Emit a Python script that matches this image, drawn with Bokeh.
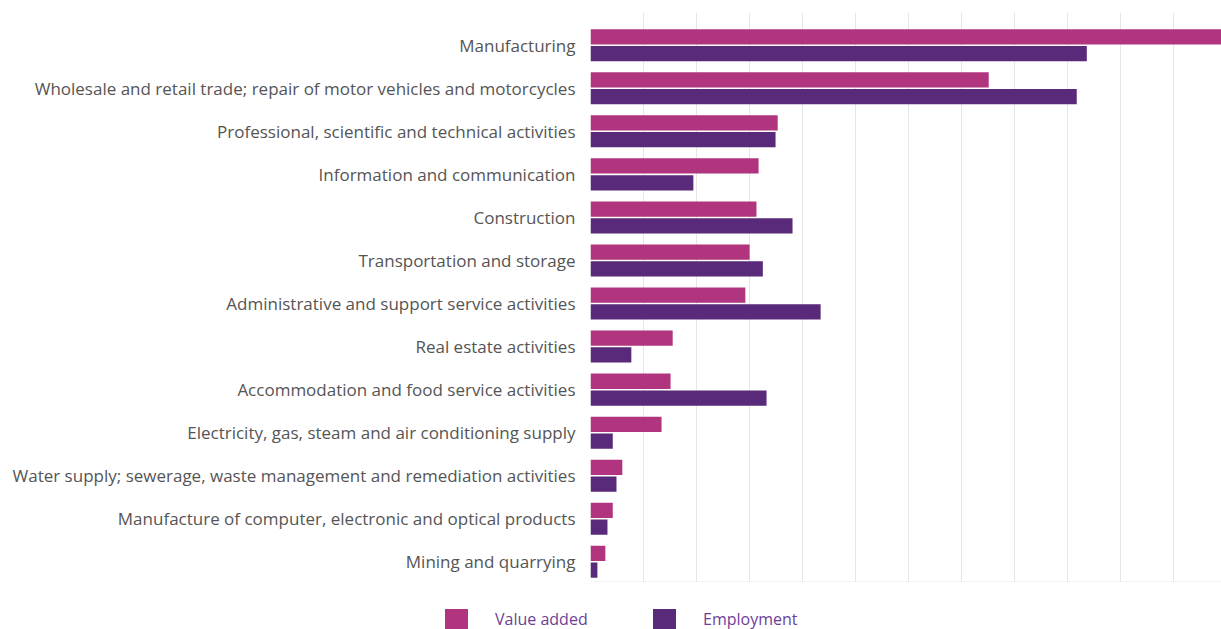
from bokeh.plotting import figure
from bokeh.layouts import column
from bokeh.models import ColumnDataSource, FixedTicker, Range1d, Span, Div
from bokeh.embed import file_html
from bokeh.resources import INLINE

categories = [
    "Manufacturing",
    "Wholesale and retail trade; repair of motor vehicles and motorcycles",
    "Professional, scientific and technical activities",
    "Information and communication",
    "Construction",
    "Transportation and storage",
    "Administrative and support service activities",
    "Real estate activities",
    "Accommodation and food service activities",
    "Electricity, gas, steam and air conditioning supply",
    "Water supply; sewerage, waste management and remediation activities",
    "Manufacture of computer, electronic and optical products",
    "Mining and quarrying",
]
value_added = [12.3, 7.51, 3.53, 3.17, 3.13, 3.0, 2.92, 1.55, 1.51, 1.34, 0.60, 0.42, 0.28]
employment = [9.36, 9.17, 3.49, 1.94, 3.81, 3.25, 4.34, 0.77, 3.32, 0.42, 0.49, 0.32, 0.13]
series_names = ["Value added", "Employment"]
colors = ["#b0347e", "#592a79"]

n = len(categories)
ypos = [n - 1 - i for i in range(n)]
off = 0.195
src = ColumnDataSource(dict(
    cat=categories,
    y_va=[y + off for y in ypos],
    y_emp=[y - off for y in ypos],
    va=value_added,
    emp=employment,
))

p = figure(frame_width=631, frame_height=570, output_backend="svg", toolbar_location=None,
           x_range=Range1d(0, 11.9), y_range=Range1d(-0.48, 12.76),
           min_border_left=590, min_border_right=0, min_border_top=12, min_border_bottom=0)
p.outline_line_color = None
p.background_fill_color = "white"

p.hbar(y="y_va", right="va", left=0, height=0.355, source=src, color=colors[0], line_color=None)
p.hbar(y="y_emp", right="emp", left=0, height=0.355, source=src, color=colors[1], line_color=None)

p.xaxis.visible = False
p.xgrid.ticker = FixedTicker(ticks=list(range(0, 13)))
p.xgrid.grid_line_color = "#e6e6e6"
p.ygrid.grid_line_color = None
p.add_layout(Span(location=-0.47, dimension="width", line_color="#e6e6e6", line_width=1))

p.yaxis.ticker = FixedTicker(ticks=ypos)
p.yaxis.major_label_overrides = {y: c for y, c in zip(ypos, categories)}
p.yaxis.axis_line_color = None
p.yaxis.major_tick_line_color = None
p.yaxis.minor_tick_line_color = None
p.yaxis.major_label_standoff = 9
p.yaxis.major_label_text_font = "Open Sans"
p.yaxis.major_label_text_font_size = "17px"
p.yaxis.major_label_text_color = "#555555"

# HTML legend strip below the chart
item_lefts = [445, 653]
parts = []
for name, col, left in zip(series_names, colors, item_lefts):
    parts.append(
        f'<span style="position:absolute;left:{left}px;top:27px;width:23px;height:20px;'
        f'background:{col};"></span>'
        f'<span style="position:absolute;left:{left + 50}px;top:27px;height:20px;line-height:20px;'
        f'font-family:\'Open Sans\';font-size:16px;color:#6d3f98;white-space:nowrap;">{name}</span>'
    )
legend_div = Div(text='<div style="position:relative;width:1221px;height:47px;">' + "".join(parts) + "</div>",
                 width=1221, height=47, margin=0)

layout = column(p, legend_div, spacing=0)
open("out.html", "w").write(file_html(layout, INLINE))
